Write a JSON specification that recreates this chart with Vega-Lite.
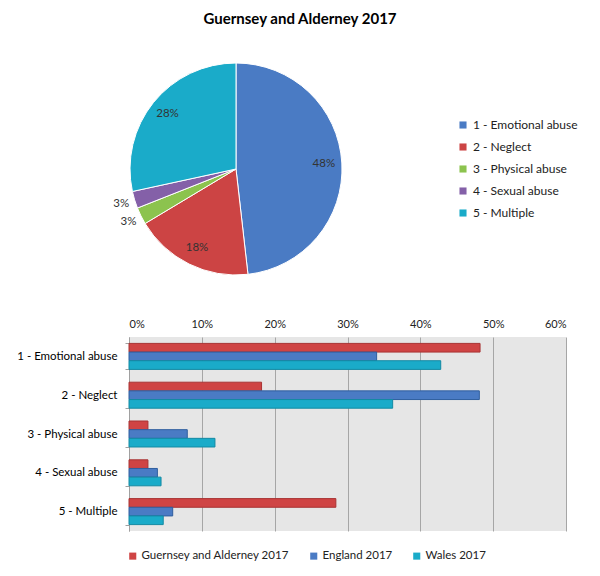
{
  "$schema": "https://vega.github.io/schema/vega-lite/v6.json",
  "padding": {"left": 16, "top": 12, "right": 10, "bottom": 10},
  "background": "white",
  "config": {"font": "Lato", "view": {"stroke": null}},
  "datasets": {
    "abuse": [
      {"category": "1 - Emotional abuse", "region": "Guernsey and Alderney 2017", "value": 0.482},
      {"category": "1 - Emotional abuse", "region": "England 2017", "value": 0.340},
      {"category": "1 - Emotional abuse", "region": "Wales 2017", "value": 0.428},
      {"category": "2 - Neglect", "region": "Guernsey and Alderney 2017", "value": 0.182},
      {"category": "2 - Neglect", "region": "England 2017", "value": 0.481},
      {"category": "2 - Neglect", "region": "Wales 2017", "value": 0.362},
      {"category": "3 - Physical abuse", "region": "Guernsey and Alderney 2017", "value": 0.026},
      {"category": "3 - Physical abuse", "region": "England 2017", "value": 0.080},
      {"category": "3 - Physical abuse", "region": "Wales 2017", "value": 0.118},
      {"category": "4 - Sexual abuse", "region": "Guernsey and Alderney 2017", "value": 0.026},
      {"category": "4 - Sexual abuse", "region": "England 2017", "value": 0.039},
      {"category": "4 - Sexual abuse", "region": "Wales 2017", "value": 0.044},
      {"category": "5 - Multiple", "region": "Guernsey and Alderney 2017", "value": 0.284},
      {"category": "5 - Multiple", "region": "England 2017", "value": 0.060},
      {"category": "5 - Multiple", "region": "Wales 2017", "value": 0.047}
    ]
  },
  "bounds": "flush",
  "spacing": 62,
  "resolve": {"scale": {"color": "independent", "stroke": "independent"}, "legend": {"color": "independent"}},
  "vconcat": [
    {
      "width": 214,
      "height": 212,
      "title": {"text": "Guernsey and Alderney 2017", "fontSize": 15, "fontWeight": "bold", "font": "Lato", "color": "#000000", "dx": 64, "offset": 34, "anchor": "middle"},
      "data": {"name": "abuse"},
      "transform": [{"filter": "datum.region === 'Guernsey and Alderney 2017'"}],
      "encoding": {
        "theta": {"field": "value", "type": "quantitative", "stack": true},
        "order": {"field": "category", "sort": "ascending"}
      },
      "layer": [
        {
          "mark": {"type": "arc", "stroke": "#ffffff", "strokeWidth": 1},
          "encoding": {
            "color": {
              "field": "category",
              "type": "nominal",
              "scale": {"range": ["#4a7bc4", "#cc4444", "#8cc34e", "#8460a8", "#1aabc9"]},
              "legend": {
                "title": null,
                "orient": "none",
                "legendX": 328,
                "legendY": 56,
                "symbolType": "square",
                "symbolSize": 50,
                "symbolStrokeWidth": 0,
                "labelFontSize": 12,
                "labelColor": "#222222",
                "rowPadding": 10,
                "labelOffset": 4
              }
            }
          }
        },
        {
          "mark": {"type": "text", "radius": 88, "fontSize": 11.5, "color": "#333333"},
          "encoding": {
            "text": {"condition": {"test": "datum.value > 0.05", "field": "value", "type": "quantitative", "format": ".0%"}, "value": ""}
          }
        },
        {
          "mark": {"type": "text", "radius": 120, "fontSize": 11.5, "color": "#333333"},
          "encoding": {
            "text": {"condition": {"test": "datum.value < 0.05", "field": "value", "type": "quantitative", "format": ".0%"}, "value": ""}
          }
        }
      ]
    },
    {
      "width": 437,
      "height": 194,
      "view": {"fill": "#e6e6e6", "stroke": null},
      "data": {"name": "abuse"},
      "mark": {"type": "bar", "strokeWidth": 1},
      "encoding": {
        "y": {
          "field": "category",
          "type": "nominal",
          "title": null,
          "scale": {"paddingInner": 0.33, "paddingOuter": 0.165},
          "axis": {"tickBand": "extent", "labelFontSize": 11.5, "labelColor": "#000000", "domainColor": "#a0a0a0", "tickColor": "#a0a0a0", "tickSize": 4, "labelPadding": 8, "grid": false}
        },
        "x": {
          "field": "value",
          "type": "quantitative",
          "scale": {"domain": [0, 0.6]},
          "axis": {"orient": "top", "format": ".0%", "values": [0, 0.1, 0.2, 0.3, 0.4, 0.5, 0.6], "grid": true, "gridColor": "#a6a6a6", "gridOpacity": 1, "domain": false, "ticks": false, "title": null, "labelFontSize": 11, "labelColor": "#222222", "labelPadding": 8}
        },
        "yOffset": {
          "field": "region",
          "type": "nominal",
          "sort": ["Guernsey and Alderney 2017", "England 2017", "Wales 2017"],
          "scale": {"paddingInner": 0, "paddingOuter": 0}
        },
        "color": {
          "field": "region",
          "type": "nominal",
          "sort": ["Guernsey and Alderney 2017", "England 2017", "Wales 2017"],
          "scale": {"domain": ["Guernsey and Alderney 2017", "England 2017", "Wales 2017"], "range": ["#cf4444", "#4a7bc4", "#1aabc9"]},
          "legend": {
            "title": null,
            "orient": "none",
            "direction": "horizontal",
            "legendX": -2,
            "legendY": 213,
            "symbolType": "square",
            "symbolSize": 50,
            "symbolStrokeWidth": 0,
            "labelFontSize": 11.5,
            "labelColor": "#222222",
            "labelOffset": 3,
            "columnPadding": 18
          }
        },
        "stroke": {
          "field": "region",
          "type": "nominal",
          "scale": {"domain": ["Guernsey and Alderney 2017", "England 2017", "Wales 2017"], "range": ["#a83333", "#2f5e9e", "#138aa3"]},
          "legend": null
        }
      }
    }
  ]
}
